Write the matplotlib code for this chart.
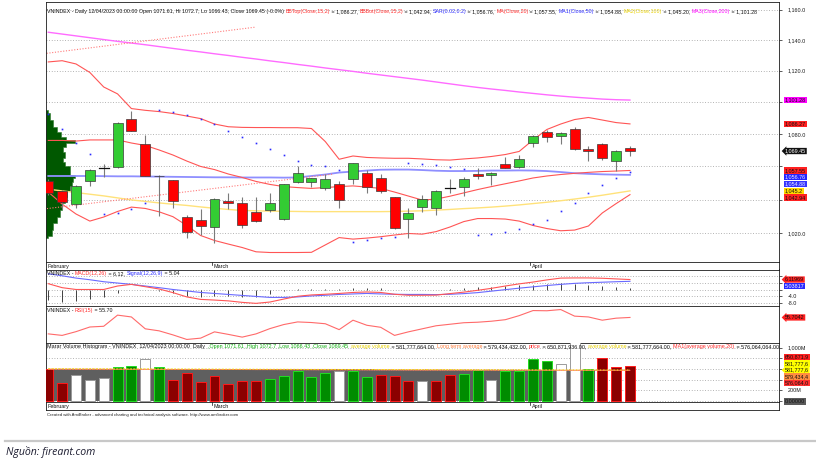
import numpy as np
import matplotlib
matplotlib.use("Agg")
import matplotlib.pyplot as plt
from matplotlib.patches import Rectangle, Polygon
from matplotlib.lines import Line2D
from matplotlib.ticker import FixedLocator, NullLocator, NullFormatter, FuncFormatter

plt.rcParams['font.family'] = ['Liberation Sans', 'DejaVu Sans']

# ---------------- data ----------------
dates = ["2023-02-13", "2023-02-14", "2023-02-15", "2023-02-16", "2023-02-17", "2023-02-20",
         "2023-02-21", "2023-02-22", "2023-02-23", "2023-02-24", "2023-02-27", "2023-02-28",
         "2023-03-01", "2023-03-02", "2023-03-03", "2023-03-06", "2023-03-07", "2023-03-08",
         "2023-03-09", "2023-03-10", "2023-03-13", "2023-03-14", "2023-03-15", "2023-03-16",
         "2023-03-17", "2023-03-20", "2023-03-21", "2023-03-22", "2023-03-23", "2023-03-24",
         "2023-03-27", "2023-03-28", "2023-03-29", "2023-03-30", "2023-03-31", "2023-04-03",
         "2023-04-04", "2023-04-05", "2023-04-06", "2023-04-07", "2023-04-10", "2023-04-11",
         "2023-04-12"]
month_names = {"02": "February", "03": "March", "04": "April"}

open_ = [1051.2, 1045.2, 1037.2, 1051.2, 1059.0, 1059.4, 1089.3, 1073.6, 1054.2, 1051.6, 1029.8,
         1027.8, 1023.5, 1039.2, 1037.9, 1032.8, 1033.8, 1028.4, 1050.4, 1050.4, 1046.7, 1049.2,
         1052.2, 1055.8, 1053.0, 1041.5, 1028.6, 1035.7, 1035.0, 1046.7, 1047.7, 1055.6, 1054.8,
         1061.3, 1059.5, 1074.2, 1081.0, 1078.9, 1083.1, 1070.7, 1073.6, 1063.5, 1071.61]
high = [1052.5, 1045.8, 1048.6, 1058.2, 1061.5, 1087.5, 1094.6, 1079.4, 1054.6, 1052.0, 1030.8,
        1034.2, 1040.7, 1043.8, 1041.3, 1041.7, 1043.8, 1049.6, 1060.3, 1053.2, 1055.2, 1051.2,
        1062.3, 1057.7, 1055.2, 1041.8, 1034.8, 1042.5, 1045.5, 1052.2, 1053.6, 1058.8, 1056.6,
        1066.0, 1067.2, 1079.2, 1082.2, 1081.1, 1084.5, 1072.5, 1074.4, 1069.9, 1072.7]
low = [1042.5, 1034.3, 1034.8, 1048.0, 1053.3, 1059.0, 1082.0, 1054.0, 1030.4, 1034.8, 1017.4,
       1018.8, 1014.1, 1034.2, 1022.9, 1026.8, 1032.8, 1027.8, 1049.8, 1047.6, 1045.7, 1034.8,
       1049.2, 1043.8, 1043.8, 1022.5, 1017.1, 1032.8, 1030.8, 1044.2, 1042.1, 1052.2, 1048.6,
       1058.9, 1059.2, 1071.7, 1075.2, 1073.6, 1070.3, 1063.5, 1063.9, 1057.4, 1066.43]
close = [1043.8, 1038.8, 1048.0, 1057.8, 1059.0, 1086.6, 1082.0, 1054.2, 1054.0, 1039.3, 1020.9,
         1024.5, 1040.3, 1037.8, 1024.9, 1027.3, 1037.9, 1049.2, 1056.0, 1052.8, 1052.4, 1039.7,
         1061.9, 1047.4, 1045.1, 1022.9, 1032.2, 1040.2, 1045.1, 1046.7, 1052.2, 1054.0, 1056.2,
         1059.2, 1064.6, 1078.9, 1078.3, 1080.8, 1070.5, 1069.5, 1065.0, 1069.6, 1069.45]

bb_top = [1125.7, 1126.5, 1124.4, 1118.9, 1109.6, 1105.2, 1095.9, 1094.8, 1094.0, 1092.8, 1091.2,
          1089.6, 1086.2, 1084.5, 1084.1, 1084.0, 1084.0, 1083.9, 1083.9, 1083.4, 1075.3, 1064.4,
          1066.4, 1065.5, 1065.2, 1065.0, 1065.0, 1064.6, 1064.1, 1063.9, 1064.6, 1065.2, 1066.1,
          1067.3, 1069.2, 1076.3, 1082.8, 1086.2, 1089.0, 1090.3, 1088.7, 1087.1, 1086.27]
bb_bot = [1044.5, 1037.3, 1031.4, 1027.2, 1029.6, 1032.9, 1035.5, 1034.7, 1032.7, 1029.8, 1024.6,
          1018.7, 1015.8, 1013.7, 1011.7, 1009.2, 1008.8, 1008.8, 1008.8, 1008.9, 1013.2, 1017.5,
          1016.6, 1017.2, 1018.0, 1019.0, 1019.9, 1019.5, 1021.0, 1023.7, 1026.9, 1028.7, 1028.7,
          1028.4, 1027.2, 1024.6, 1022.8, 1021.5, 1021.9, 1024.3, 1032.0, 1037.6, 1042.94]
ma20 = [1076.0, 1076.0, 1075.6, 1076.3, 1076.3, 1076.3, 1074.4, 1072.9, 1070.1, 1067.0, 1063.3,
        1060.0, 1058.1, 1055.4, 1053.3, 1050.9, 1049.1, 1047.8, 1047.2, 1046.7, 1047.2, 1047.8,
        1048.2, 1047.5, 1046.7, 1044.5, 1042.1, 1039.7, 1040.3, 1042.0, 1044.0, 1046.0, 1047.8,
        1049.5, 1051.2, 1053.0, 1054.2, 1055.1, 1055.8, 1056.4, 1056.9, 1057.2, 1057.55]
ma50 = [1054.2, 1054.2, 1054.2, 1054.2, 1054.1, 1054.0, 1054.0, 1053.9, 1053.8, 1053.7, 1053.6,
        1053.5, 1053.4, 1053.4, 1053.3, 1053.3, 1053.3, 1053.2, 1053.3, 1054.2, 1055.1, 1056.3,
        1056.9, 1057.5, 1058.0, 1058.1, 1058.1, 1057.8, 1057.4, 1057.2, 1057.2, 1057.3, 1057.5,
        1057.5, 1057.6, 1057.5, 1057.2, 1056.6, 1055.9, 1055.5, 1055.2, 1055.0, 1054.88]
ma100 = [1046.2, 1045.2, 1044.2, 1043.2, 1042.2, 1041.0, 1039.8, 1038.9, 1038.0, 1037.2, 1036.5,
         1035.6, 1034.8, 1034.1, 1033.5, 1033.3, 1033.1, 1033.0, 1032.9, 1032.8, 1032.8, 1032.8,
         1032.8, 1032.8, 1032.8, 1032.9, 1033.1, 1033.3, 1033.7, 1034.1, 1034.6, 1035.0, 1035.5,
         1036.1, 1036.8, 1037.6, 1038.4, 1039.3, 1040.3, 1041.4, 1042.6, 1043.9, 1045.20]
ma200 = [1145.1, 1143.9, 1142.7, 1141.5, 1140.3, 1139.1, 1138.0, 1136.9, 1135.7, 1134.5, 1133.3,
         1132.2, 1131.0, 1129.9, 1128.7, 1127.6, 1126.4, 1125.3, 1124.1, 1123.0, 1121.8, 1120.7,
         1119.6, 1118.4, 1117.3, 1116.2, 1115.1, 1114.0, 1112.8, 1111.6, 1110.4, 1109.3, 1108.3,
         1107.4, 1106.4, 1105.5, 1104.6, 1103.8, 1103.1, 1102.5, 1101.9, 1101.5, 1101.28]
sar = [1092.3, 1082.8, 1074.7, 1067.6, 1031.6, 1032.1, 1034.3, 1038.1, 1095.0, 1093.6, 1092.0,
       1089.4, 1086.1, 1082.0, 1077.9, 1074.5, 1070.6, 1067.0, 1063.6, 1060.6, 1060.5, 1057.8,
       1014.9, 1016.2, 1017.2, 1018.0, 1062.4, 1061.7, 1060.6, 1059.6, 1058.7, 1018.8, 1019.7,
       1020.6, 1022.4, 1025.7, 1027.8, 1033.3, 1038.2, 1043.8, 1048.6, 1052.8, 1056.76]

# hand-drawn trend lines (date index, price)
trend_up = [(-0.12, 1131.3), (14.9, 1148.4)]
trend_low = [(-0.1, 1034.6), (20.5, 1055.3)]

# volume-at-price profile (relative volume, 100 = max)
prof_price = [1095.0, 1090.8, 1086.6, 1082.5, 1079.4, 1077.4, 1075.3, 1073.3, 1070.1, 1067.0,
              1063.9, 1061.9, 1058.9, 1055.8, 1053.8, 1051.8, 1049.8, 1046.8, 1043.8, 1039.7,
              1035.8, 1031.8, 1027.8, 1023.8, 1020.0, 1017.0]
prof_vol = [7, 14, 24, 38, 52, 69, 100, 69, 59, 66, 59, 66, 83, 83, 100, 93, 90, 83, 72, 66,
            55, 48, 38, 24, 21, 7]

macd = [3.6, 1.2, 0.1, 0.1, 0.1, 2.2, 3.2, 1.8, 0.4, -1.8, -4.4, -5.9, -6.3, -6.8, -7.7, -8.3,
        -7.5, -5.7, -4.0, -3.2, -2.8, -2.3, -1.7, -1.4, -1.7, -2.8, -3.4, -3.4, -3.3, -2.4, -1.5,
        -0.4, 0.8, 2.2, 3.5, 4.6, 5.9, 7.0, 7.1, 7.1, 6.9, 6.5, 6.11969]
signal = [9.6, 8.4, 7.0, 6.0, 4.8, 4.0, 3.2, 2.2, 1.2, 0.1, -0.8, -1.7, -2.3, -2.9, -3.5, -4.1,
          -4.7, -4.7, -4.4, -3.8, -3.4, -2.9, -2.6, -2.3, -2.6, -2.8, -2.9, -2.9, -3.0, -2.8, -2.4,
          -1.8, -0.9, 0.0, 0.9, 1.7, 2.5, 3.2, 3.8, 4.2, 4.5, 4.8, 5.03817]
rsi = [39.5, 38.0, 41.7, 46.3, 47.0, 58.0, 56.2, 44.5, 42.5, 38.5, 34.0, 35.3, 41.5, 39.0, 36.3,
       39.5, 44.7, 48.7, 51.3, 50.7, 49.5, 43.7, 53.0, 48.0, 46.0, 38.0, 41.5, 44.5, 47.5, 49.0,
       50.5, 51.0, 52.0, 53.5, 57.5, 62.5, 62.3, 63.5, 57.0, 56.2, 53.0, 55.0, 55.7042]

# volume in millions of shares
volume = [605, 335, 492, 404, 429, 635, 662, 780, 643, 398, 523, 361, 474, 323, 385, 385, 417,
          479, 560, 460, 523, 560, 555, 460, 498, 479, 372, 372, 367, 498, 511, 586, 404, 560,
          560, 780, 748, 699, 1150, 605, 805, 635, 650.871936]
vol_class = ["R", "R", "W", "W", "W", "G", "G", "W", "G", "R", "R", "R", "R", "R", "R", "R", "G",
             "G", "G", "G", "G", "W", "G", "G", "R", "R", "R", "W", "R", "R", "G", "G", "W", "G",
             "G", "G", "G", "W", "W", "G", "R", "R", "R"]
avg_volume = [605, 605, 604, 604, 603, 603, 602, 602, 601, 601, 600, 600, 599, 598, 598, 597, 596,
              596, 595, 594, 594, 593, 592, 592, 591, 590, 590, 589, 588, 588, 587, 586, 586, 585,
              585, 584, 584, 583, 583, 582, 582, 582, 581.777664]
lt_average = [600, 600, 599, 599, 598, 598, 597, 597, 596, 595, 595, 594, 593, 593, 592, 591, 591,
              590, 589, 589, 588, 587, 587, 586, 585, 585, 584, 584, 583, 583, 582, 582, 581, 581,
              581, 580, 580, 580, 580, 579.8, 579.6, 579.5, 579.434432]
ma1_avgvol = [598, 598, 597, 597, 596, 596, 595, 595, 594, 593, 593, 592, 591, 591, 590, 589, 589,
              588, 587, 587, 586, 585, 585, 584, 583, 583, 582, 581, 581, 580, 580, 579, 579, 578,
              578, 578, 577, 577, 577, 576.6, 576.4, 576.2, 576.064064]

# ---------------- layout ----------------
W, H = 816, 459
fig = plt.figure(figsize=(W / 100, H / 100), dpi=100)
fig.patch.set_facecolor('white')
FS = 3.9
SPINE = '#1a1a1a'


def add_axes(l, t, r, b, **kw):
    a = fig.add_axes([l / W, 1 - b / H, (r - l) / W, (b - t) / H], **kw)
    for s in a.spines.values():
        s.set_linewidth(0.6)
        s.set_color(SPINE)
    a.tick_params(axis='x', which='both', bottom=False, labelbottom=False, top=False)
    return a


L, R = 46, 779
ax = add_axes(L, 2, R, 262)
ax_d1 = add_axes(L, 262, R, 269.5, sharex=ax)
ax_m = add_axes(L, 269.5, R, 306, sharex=ax)
ax_r = add_axes(L, 306, R, 342.5, sharex=ax)
ax_v = add_axes(L, 342.5, R, 401.5, sharex=ax)
ax_d2 = add_axes(L, 401.5, R, 410, sharex=ax)

n = len(close)
x = np.arange(n)
XMIN, XMAX = -0.166, 52.76
ax.set_xlim(XMIN, XMAX)

# ---------------- main price panel ----------------
ax.set_yscale('log')
ax.set_ylim(1003.3, 1165.2)
pticks = [1020, 1040, 1060, 1080, 1100, 1120, 1140, 1160]
ax.yaxis.set_major_locator(FixedLocator(pticks))
ax.yaxis.set_minor_locator(NullLocator())
ax.yaxis.set_minor_formatter(NullFormatter())
ax.yaxis.tick_right()
ax.tick_params(axis='y', length=2, width=0.5, pad=4, labelsize=FS, colors=SPINE)
ax.grid(axis='y', which='major', linestyle=(0, (1, 2.2)), color='#9a9a9a', lw=0.6)
ax.set_axisbelow(True)

# volume profile
pv = np.array(prof_vol) / 100.0 * 2.09
ax.fill_betweenx(prof_price, XMIN, XMIN + pv, step='mid', color='#005800', lw=0.4,
                 edgecolor='#2a7a2a', zorder=1.5)

ax.plot(x, ma200, color='#ff6bff', lw=1.0, zorder=2)
ax.plot(x, ma100, color='#ffe27a', lw=1.0, zorder=2)
ax.plot(x, ma50, color='#8f8fff', lw=1.3, zorder=2)
ax.plot(x, ma20, color='#ff5555', lw=0.8, zorder=2)
ax.plot(x, bb_top, color='#ff5555', lw=0.8, zorder=2)
ax.plot(x, bb_bot, color='#ff5555', lw=0.8, zorder=2)
ax.plot([p[0] for p in trend_up], [p[1] for p in trend_up], color='#ff7a7a', lw=0.8,
        linestyle=(0, (1, 1.5)), zorder=2)
ax.plot([p[0] for p in trend_low], [p[1] for p in trend_low], color='#ff7a7a', lw=0.8,
        linestyle=(0, (1, 1.5)), zorder=2)

BW = 0.72
for i in range(n):
    o, h, l, c = open_[i], high[i], low[i], close[i]
    ax.plot([i, i], [l, h], color='#7a7a7a', lw=0.8, zorder=3, solid_capstyle='butt')
    if abs(c - o) < 0.05:
        ax.plot([i - BW / 2, i + BW / 2], [c, c], color='#111111', lw=0.9, zorder=4)
    else:
        fc = '#33cc33' if c > o else '#ff0000'
        ax.add_patch(Rectangle((i - BW / 2, min(o, c)), BW, abs(c - o), facecolor=fc,
                               edgecolor='#3a3a3a', lw=0.5, zorder=4))
ax.plot(x, sar, linestyle='none', marker='s', ms=1.2, color='#2a2aff', mec='none', zorder=5)

# ---------------- MACD panel ----------------
ax_m.set_ylim(-9.9, 12.2)
mticks = [-8, -4, 0, 4, 8]
ax_m.yaxis.set_major_locator(FixedLocator(mticks))
ax_m.yaxis.tick_right()
ax_m.tick_params(axis='y', length=2, width=0.5, pad=4, labelsize=FS, colors=SPINE)
ax_m.grid(axis='y', linestyle=(0, (1, 2.2)), color='#9a9a9a', lw=0.6)
hist = np.array(macd) - np.array(signal)
ax_m.vlines(x, 0, hist, color='#222222', lw=0.6, zorder=2)
ax_m.plot(x, signal, color='#6a6aff', lw=0.8, zorder=3)
ax_m.plot(x, macd, color='#ff5555', lw=0.8, zorder=3)

# ---------------- RSI panel ----------------
ax_r.set_ylim(31, 67)
ax_r.set_yticks([])
ax_r.plot(x, rsi, color='#ff6a6a', lw=0.8)

# ---------------- volume panel ----------------
ax_v.set_ylim(-9, 1099)
vticks = [0, 200, 400, 600, 800, 1000]
ax_v.yaxis.set_major_locator(FixedLocator(vticks))
ax_v.yaxis.tick_right()
ax_v.tick_params(axis='y', length=2, width=0.5, pad=4, labelsize=FS, colors=SPINE)
ax_v.grid(axis='y', linestyle=(0, (1, 2.2)), color='#9a9a9a', lw=0.6, zorder=0.5)
ax_v.set_axisbelow(True)
poly = [(XMIN, 0)]
for i in range(40):
    left = XMIN if i == 0 else i - 0.5
    poly += [(left, avg_volume[i]), (i + 0.5, avg_volume[i])]
poly += [(39.5, 0)]
ax_v.add_patch(Polygon(poly, closed=True, facecolor='#5f5f5f', edgecolor='none', zorder=2))
vstyle = {"R": ('#8b0000', '#ff1a1a'), "G": ('#008c00', '#22dd22'), "W": ('#ffffff', '#9a9a9a')}
for i in range(n):
    fc, ec = vstyle[vol_class[i]]
    ax_v.add_patch(Rectangle((i - BW / 2, 0), BW, volume[i], facecolor=fc, edgecolor=ec,
                             lw=0.7, zorder=3))
ax_v.plot(x, lt_average, color='#ff9a50', lw=0.7, linestyle=(0, (1, 1.5)), zorder=4)
ax_v.plot(x, ma1_avgvol, color='#ff7070', lw=0.6, zorder=4)
ax_v.plot(x, avg_volume, color='#f0e000', lw=0.7, linestyle=(0, (2, 1.5)), zorder=4)

# ---------------- date strips ----------------
for a in (ax_d1, ax_d2):
    a.set_ylim(0, 1)
    a.set_yticks([])
    prev = None
    for i, d in enumerate(dates):
        m = d[5:7]
        if m != prev:
            if i == 0:
                a.text(XMIN + 0.1, 0.45, month_names[m], fontsize=FS, va='center', ha='left',
                       color='#111111')
            else:
                a.plot([i - 0.2, i - 0.2], [0.55, 1.0], color='#111111', lw=0.5)
                a.text(i - 0.1, 0.45, month_names[m], fontsize=FS, va='center', ha='left',
                       color='#111111')
        prev = m


# ---------------- titles ----------------
def chain(a, x_px, y_px, segs, fs):
    arts = []
    t = a.annotate(segs[0][0], xy=(x_px, H - y_px), xycoords='figure pixels', color=segs[0][1],
                   fontsize=fs, ha='left', va='center', annotation_clip=False, zorder=30)
    arts.append(t)
    for s, c in segs[1:]:
        t = a.annotate(s, xy=(1, 0), xycoords=t, color=c, fontsize=fs, ha='left', va='bottom',
                       annotation_clip=False, zorder=30)
        arts.append(t)
    return arts


K = '#111111'
RED, BLUE, YEL, MAG = '#ff2a2a', '#2a2aff', '#e8d000', '#ff00ff'
chg = (close[-1] / close[-2] - 1) * 100
d_last = dates[-1]
dstr = f"{d_last[8:10]}/{d_last[5:7]}/{d_last[0:4]} 00:00:00"
main_segs = [
    (f"VNINDEX - Daily {dstr} Open {open_[-1]:g}, Hi {high[-1]:g}, Lo {low[-1]:g}, "
     f"Close {close[-1]:g} ({chg:.1f}%) ", K),
    ("BBTop(Close,15,2)", RED), (f" = {bb_top[-1]:,.2f}, ", K),
    ("BBBot(Close,15,2)", RED), (f" = {bb_bot[-1]:,.2f}, ", K),
    ("SAR(0.02,0.2)", BLUE), (f" = {sar[-1]:,.2f}, ", K),
    ("MA(Close,20)", RED), (f" = {ma20[-1]:,.2f}, ", K),
    ("MA1(Close,50)", BLUE), (f" = {ma50[-1]:,.2f}, ", K),
    ("MA2(Close,100)", YEL), (f" = {ma100[-1]:,.2f}, ", K),
    ("MA3(Close,200)", MAG), (f" = {ma200[-1]:,.2f}", K)]
macd_segs = [("VNINDEX - ", K), ("MACD(12,26)", RED), (f" = {macd[-1]:.2f}, ", K),
             ("Signal(12,26,9)", BLUE), (f" = {signal[-1]:.2f}", K)]
rsi_segs = [("VNINDEX - ", K), ("RSI(15)", RED), (f" = {rsi[-1]:.2f}", K)]
vol_segs = [
    (f"Marar Volume Histogram - VNINDEX  {dstr}  Daily  ", K),
    (f",Open {open_[-1]:g} ,High {high[-1]:g} ,Low {low[-1]:g} ,Close {close[-1]:g}  ", '#10b010'),
    ("average volume", YEL), (f" = {avg_volume[-1] * 1e6:,.2f}, ", K),
    ("Long term average", '#ff8040'), (f" = {lt_average[-1] * 1e6:,.2f}, ", K),
    ("price", RED), (f" = {volume[-1] * 1e6:,.2f}, ", K),
    ("average volume", YEL), (f" = {avg_volume[-1] * 1e6:,.2f}, ", K),
    ("MA1(average volume,20)", RED), (f" = {ma1_avgvol[-1] * 1e6:,.2f}", K)]

t_main = chain(ax, 47, 11.7, main_segs, 4.0)
t_vol = chain(ax_v, 47, 346.5, vol_segs, 4.0)
t_macd = chain(ax_m, 47, 273.5, macd_segs, 4.0)
t_rsi = chain(ax_r, 47, 310.5, rsi_segs, 4.0)

fig.canvas.draw()
main_fs = 4.0
for arts, target in ((t_main, 699.0), (t_vol, 722.0)):
    r = fig.canvas.get_renderer()
    x0 = arts[0].get_window_extent(r).x0
    x1 = arts[-1].get_window_extent(r).x1
    new = 4.0 * target / (x1 - x0)
    for t in arts:
        t.set_fontsize(new)
    if arts is t_main:
        main_fs = new
for t in t_macd + t_rsi:
    t.set_fontsize(main_fs)

fig.text(47 / W, 1 - 415 / H,
         "Created with AmiBroker - advanced charting and technical analysis software. "
         "http://www.amibroker.com", fontsize=main_fs * 0.8, color='#222222', va='center')


# ---------------- value labels on the right ----------------
def vlabel(y_disp, text, bg, fg, arrow=False):
    style = 'larrow,pad=0.12' if arrow else 'square,pad=0.12'
    fig.text(785 / W, y_disp / H, text, fontsize=FS, color=fg, ha='left', va='center',
             bbox=dict(boxstyle=style, fc=bg, ec='none'), zorder=40)
    return y_disp


def fmt(v):
    s = f"{v:,.2f}"
    return s[:-1] if s.endswith('0') else s


def stack(a, items, step=6.6):
    pts = [[a.transData.transform((0, it[0]))[1], it] for it in items]
    pts.sort(key=lambda p: -p[0])
    for k in range(1, len(pts)):
        if pts[k - 1][0] - pts[k][0] < step:
            pts[k][0] = pts[k - 1][0] - step
    ys = []
    for yd, (v, bg, fg, ar, txt) in pts:
        ys.append(vlabel(yd, txt, bg, fg, ar))
    return ys


def tick_labels(a, ticks, fmt_fn, label_ys, gap=4.5):
    labels = []
    for tv in ticks:
        yd = a.transData.transform((0, tv))[1]
        hidden = any(abs(yd - ly) < gap for ly in label_ys)
        labels.append('' if hidden else fmt_fn(tv))
    a.yaxis.set_major_formatter(FuncFormatter(
        lambda v, p, _t=list(ticks), _l=labels: _l[_t.index(v)] if v in _t else ''))


ys_main = stack(ax, [
    (ma200[-1], '#ff00ff', K, False, fmt(ma200[-1])),
    (bb_top[-1], '#ff2020', K, False, fmt(bb_top[-1])),
    (close[-1], '#111111', 'white', True, fmt(close[-1])),
    (ma20[-1], '#ff2020', K, False, fmt(ma20[-1])),
    (sar[-1], '#2424ff', '#e8e8ff', False, fmt(sar[-1])),
    (ma50[-1], '#3434ff', '#e8e8ff', False, fmt(ma50[-1])),
    (ma100[-1], '#ffd700', K, False, fmt(ma100[-1])),
    (bb_bot[-1], '#ff2020', K, False, fmt(bb_bot[-1])),
])
tick_labels(ax, pticks, lambda v: f"{v:,.1f}", ys_main)

ys_m = stack(ax_m, [
    (macd[-1], '#ff2020', K, True, f"{macd[-1]:.5f}"),
    (signal[-1], '#2a2aff', 'white', False, f"{signal[-1]:.5f}"),
])
tick_labels(ax_m, mticks, lambda v: f"{v:.1f}", ys_m)
stack(ax_r, [(rsi[-1], '#ff2020', K, True, f"{rsi[-1]:.4f}")])

anchor = ax_v.transData.transform((0, avg_volume[-1]))[1]
vstep = 6.4
vitems = [(2, volume[-1], '#ff2020'), (1, avg_volume[-1], '#ffff00'), (0, avg_volume[-1], '#ffff00'),
          (-1, lt_average[-1], '#ff8c40'), (-2, ma1_avgvol[-1], '#ff3030')]
ys_v = []
for k, v, bg in vitems:
    # box too narrow for the full number: AmiBroker truncates it
    ys_v.append(vlabel(anchor + k * vstep, f"{v * 1e6:,.2f}"[:9], bg, K, arrow=(k == 0)))
ys_v.append(vlabel(ax_v.transData.transform((0, 0))[1] - 0.5, f"{0:.5f}", '#5a5a5a', K))
tick_labels(ax_v, vticks, lambda v: f"{v:,.0f}M", ys_v)

# ---------------- source line ----------------
fig.add_artist(Line2D([5 / W, 1.0], [1 - 441 / H, 1 - 441 / H], color='#c8c8c8', lw=1.6))
fig.text(6 / W, 1 - 451.5 / H, "Nguồn: fireant.com", fontsize=7.6, style='italic',
         family=['Open Sans', 'Noto Sans', 'DejaVu Sans'], color='#1c1c30', va='center',
         ha='left')

fig.savefig("out.png", dpi=100, facecolor='white')
